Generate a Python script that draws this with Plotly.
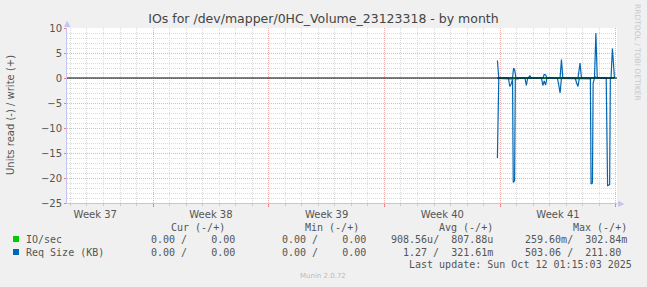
import plotly.graph_objects as go

# ---------------- data ----------------
week_labels = ["Week 37", "Week 38", "Week 39", "Week 40", "Week 41"]
week_mids = ["2025-09-11 12:00", "2025-09-18 12:00", "2025-09-25 12:00",
             "2025-10-02 12:00", "2025-10-09 12:00"]
x_range = ["2025-09-09 19:00", "2025-10-13 01:40"]

# Req Size (KB) - read (drawn negative)
req_read_t = ["2025-10-05 20:00", "2025-10-05 22:00", "2025-10-06 12:00", "2025-10-06 14:00",
              "2025-10-06 16:00", "2025-10-06 18:00", "2025-10-06 19:00", "2025-10-06 21:00",
              "2025-10-06 22:00", "2025-10-07 02:00", "2025-10-07 04:00", "2025-10-07 12:00",
              "2025-10-07 14:00", "2025-10-07 16:00", "2025-10-08 12:00", "2025-10-08 14:00",
              "2025-10-08 16:00", "2025-10-08 18:00", "2025-10-08 20:00", "2025-10-09 11:00",
              "2025-10-09 13:00", "2025-10-09 15:00", "2025-10-09 17:00", "2025-10-10 13:00",
              "2025-10-10 15:00", "2025-10-10 17:00", "2025-10-10 19:00", "2025-10-11 11:00",
              "2025-10-11 12:00", "2025-10-11 14:00", "2025-10-11 15:00", "2025-10-11 17:00",
              "2025-10-12 10:00", "2025-10-12 12:00", "2025-10-12 15:00", "2025-10-12 16:00",
              "2025-10-12 22:00"]
req_read_v = [16.0, 0, 0, 1.7,
              1.2, 0.3, 20.9, 20.5,
              0.2, 0.2, 0, 0,
              1.5, 0, 0, 1.5,
              0.6, 1.4, 0, 0,
              1.3, 3.0, 0, 0,
              1.0, 1.7, 0, 0,
              21.2, 21.0, 1.0, 0,
              0, 21.5, 21.3, 0,
              0]

# Req Size (KB) - write (drawn positive)
req_write_t = ["2025-10-05 20:00", "2025-10-05 22:00", "2025-10-06 18:00", "2025-10-06 19:30",
               "2025-10-06 21:00", "2025-10-06 23:00", "2025-10-07 17:00", "2025-10-07 19:00",
               "2025-10-07 21:00", "2025-10-08 14:00", "2025-10-08 16:00", "2025-10-08 18:00",
               "2025-10-08 20:00", "2025-10-09 15:00", "2025-10-09 17:00", "2025-10-09 19:00",
               "2025-10-10 17:00", "2025-10-10 18:00", "2025-10-10 20:00", "2025-10-10 22:00",
               "2025-10-11 17:00", "2025-10-11 19:00", "2025-10-11 21:00", "2025-10-12 17:00",
               "2025-10-12 19:00", "2025-10-12 22:00"]
req_write_v = [3.5, 0, 0, 2.0,
               1.6, 0, 0, 0.5,
               0, 0, 0.7, 0.6,
               0, 0, 3.7, 0,
               0, 1.5, 3.0, 0,
               0, 9.0, 0, 0,
               5.9, 0]

# IO/sec (tiny values)
io_t = ["2025-10-05 20:00", "2025-10-06 19:00", "2025-10-06 21:00", "2025-10-11 12:00",
        "2025-10-11 14:00", "2025-10-11 19:00", "2025-10-11 21:00", "2025-10-12 22:00"]
io_read_v = [0.1, 0.26, 0.0, 0.2, 0.0, 0.0, 0.0, 0.0]
io_write_v = [0.05, 0.1, 0.0, 0.0, 0.0, 0.30, 0.0, 0.0]

legend_rows = [
    ("IO/sec", "#00cc00", "0.00 /    0.00 ", "0.00 /    0.00 ", "908.56u/  807.88u", "259.60m/  302.84m"),
    ("Req Size (KB)", "#0066b3", "0.00 /    0.00 ", "0.00 /    0.00 ", "1.27 /  321.61m", "503.06 /  211.80 "),
]
headers = ["Cur (-/+)", "Min (-/+)", "Avg (-/+)", "Max (-/+)"]
last_update = "Last update: Sun Oct 12 01:15:03 2025"

# ---------------- geometry helpers ----------------
W, H = 647, 287
L, R, T, B = 67, 617, 28, 203


def px(x):
    return (x - L) / (R - L)


def py(y):
    return (B - y) / (B - T)


GREEN = "#00cc00"
BLUE = "#0066b3"
TXT = "#555555"

fig = go.Figure()

fig.add_trace(go.Scatter(x=io_t, y=[-v for v in io_read_v], mode="lines",
                         line=dict(color=GREEN, width=1), showlegend=False, hoverinfo="skip"))
fig.add_trace(go.Scatter(x=io_t, y=io_write_v, mode="lines",
                         line=dict(color=GREEN, width=1), showlegend=False, hoverinfo="skip"))
fig.add_trace(go.Scatter(x=req_read_t, y=[-v for v in req_read_v], mode="lines",
                         line=dict(color=BLUE, width=1.2), showlegend=False, hoverinfo="skip"))
fig.add_trace(go.Scatter(x=req_write_t, y=req_write_v, mode="lines",
                         line=dict(color=BLUE, width=1.2), showlegend=False, hoverinfo="skip"))
# carrier trace for the label axis
fig.add_trace(go.Scatter(x=[week_mids[0]], y=[None], xaxis="x2", yaxis="y",
                         mode="lines", showlegend=False, hoverinfo="skip"))

AXIS_COLOR = "#c4c4f4"
MAJ_GRID = "#f0b0b0"
MIN_GRID = "#dadada"
DASH = "1px,1px"
fig.update_layout(
    width=W, height=H, autosize=False,
    margin=dict(l=L, r=W - R, t=T, b=H - B),
    paper_bgcolor="#f0f0f0", plot_bgcolor="#ffffff",
    font=dict(family="DejaVu Sans", size=10, color=TXT),
    showlegend=False,
    xaxis=dict(
        type="date", range=x_range,
        tick0="2025-09-08", dtick=7 * 86400000,
        showticklabels=False,
        showgrid=True, gridcolor=MAJ_GRID, griddash=DASH, gridwidth=1,
        ticks="outside", ticklen=3, tickcolor="#f08080",
        minor=dict(tickmode="linear", dtick=86400000, tick0="2025-09-08", showgrid=True,
                   gridcolor=MIN_GRID, griddash=DASH, ticks="outside",
                   ticklen=2, tickcolor="#cccccc"),
        showline=True, linecolor=AXIS_COLOR, linewidth=1,
        zeroline=False, fixedrange=True,
    ),
    xaxis2=dict(
        type="date", range=x_range, overlaying="x", side="bottom", anchor="y",
        tickmode="array", tickvals=week_mids, ticktext=week_labels,
        showgrid=False, ticks="outside", ticklen=2, tickcolor="rgba(0,0,0,0)",
        tickfont=dict(family="DejaVu Sans", size=10, color=TXT),
        showline=False, zeroline=False, fixedrange=True,
    ),
    yaxis=dict(
        range=[-25, 10], tick0=0, dtick=5,
        showgrid=True, gridcolor=MAJ_GRID, griddash=DASH,
        ticks="outside", ticklen=2, tickcolor="#f08080",
        minor=dict(dtick=1, showgrid=True, gridcolor=MIN_GRID, griddash=DASH),
        showline=True, linecolor=AXIS_COLOR, linewidth=1,
        zeroline=False, fixedrange=True,
        tickfont=dict(family="DejaVu Sans", size=10, color=TXT),
    ),
    title=dict(text="IOs for /dev/mapper/0HC_Volume_23123318 - by month",
               x=0.5, xref="container", xanchor="center",
               y=1 - 19 / H, yref="container", yanchor="middle",
               font=dict(family="DejaVu Sans", size=12.5, color="#444444")),
)

# zero rule above the data
fig.add_shape(type="line", xref="paper", yref="y", x0=0, x1=1, y0=0, y1=0,
              line=dict(color="#000000", width=1), layer="above")

ann = []
# axis arrows
ann.append(dict(x=px(621), y=py(203), xref="paper", yref="paper", text="▶",
                showarrow=False, font=dict(size=8, color=AXIS_COLOR),
                xanchor="center", yanchor="middle"))
ann.append(dict(x=px(67), y=py(24), xref="paper", yref="paper", text="▲",
                showarrow=False, font=dict(size=8, color=AXIS_COLOR),
                xanchor="center", yanchor="middle"))
# y-axis title
ann.append(dict(x=px(10), y=py(115), xref="paper", yref="paper",
                text="Units read (-) / write (+)", textangle=-90, showarrow=False,
                font=dict(family="DejaVu Sans", size=10, color=TXT),
                xanchor="center", yanchor="middle"))
# rrdtool watermark
ann.append(dict(x=px(638), y=py(52), xref="paper", yref="paper",
                text="RRDTOOL / TOBI OETIKER", textangle=90, showarrow=False,
                font=dict(family="DejaVu Sans", size=7.5, color="#c8c8c8"),
                xanchor="center", yanchor="middle"))

MONO = dict(family="DejaVu Sans Mono", size=10, color=TXT)
header_right = [227, 361, 495, 629]
value_right = [243, 374, 495, 629]
for h, xr in zip(headers, header_right):
    ann.append(dict(x=px(xr), y=py(227), xref="paper", yref="paper", text=h,
                    showarrow=False, font=MONO, xanchor="right", yanchor="middle"))
row_y = [239, 252]
for (name, col, cur, mn, avg, mx), yy in zip(legend_rows, row_y):
    ann.append(dict(x=px(24), y=py(yy), xref="paper", yref="paper", text=name,
                    showarrow=False, font=MONO, xanchor="left", yanchor="middle"))
    for txt, xr in zip([cur, mn, avg, mx], value_right):
        ann.append(dict(x=px(xr), y=py(yy), xref="paper", yref="paper",
                        text=txt.replace(" ", "&nbsp;"),
                        showarrow=False, font=MONO, xanchor="right", yanchor="middle"))
    fig.add_shape(type="rect", xref="paper", yref="paper",
                  x0=px(13), x1=px(19), y0=py(yy + 3), y1=py(yy - 3),
                  fillcolor=col, line=dict(width=0))
ann.append(dict(x=px(634), y=py(264), xref="paper", yref="paper",
                text=last_update.replace(" ", "&nbsp;"),
                showarrow=False, font=MONO, xanchor="right", yanchor="middle"))
ann.append(dict(x=px(323), y=py(276), xref="paper", yref="paper", text="Munin 2.0.72",
                showarrow=False, font=dict(family="DejaVu Sans", size=7, color="#bbbbbb"),
                xanchor="center", yanchor="middle"))
fig.update_layout(annotations=ann)

fig.write_html("out.html")
